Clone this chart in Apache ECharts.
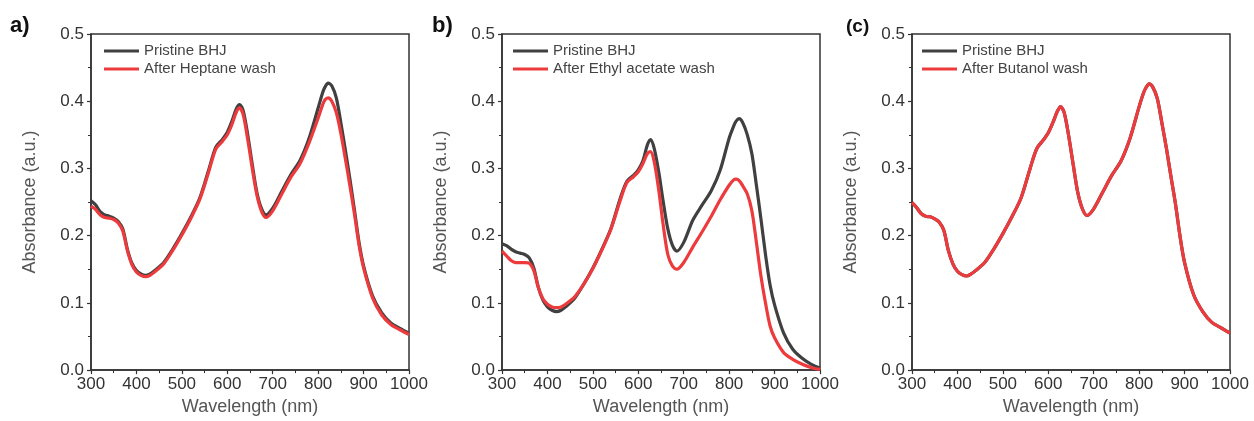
<!DOCTYPE html>
<html>
<head>
<meta charset="utf-8">
<script src="https://cdn.jsdelivr.net/npm/echarts@6/dist/echarts.min.js"></script>
<style>
  html, body { margin: 0; padding: 0; background: #fff; }
  #chart { width: 1254px; height: 421px; }
</style>
</head>
<body>
<div id="chart"></div>
<script>
// wavelength grid (nm), shared by all curves
var wavelengths = [300, 310, 320, 330, 340, 350, 360, 370, 380, 390, 400, 410, 420, 430, 440, 460, 480, 500, 520, 540,
  560, 575, 590, 600, 610, 620, 627, 635, 645, 655, 665, 675, 685, 700, 720, 740, 760, 780, 800, 810,
  815, 822, 830, 840, 850, 860, 870, 880, 890, 900, 920, 940, 960, 980, 1000];

// panel a
var aPristine = [.252, .246, .236, .231, .229, .226, .221, .210, .180, .159, .148, .143, .141, .143, .148, .160, .180, .203, .228, .257,
  .300, .332, .344, .354, .370, .389, .395, .386, .350, .306, .265, .241, .231, .241, .266, .291, .312, .345, .390, .413,
  .421, .427, .423, .405, .368, .327, .284, .238, .190, .155, .110, .085, .070, .062, .055];
var aHeptane = [.244, .239, .231, .227, .226, .224, .219, .207, .178, .157, .146, .141, .139, .141, .146, .158, .178, .201, .226, .255,
  .297, .329, .341, .350, .365, .384, .390, .380, .343, .300, .261, .237, .227, .237, .262, .287, .307, .338, .375, .395,
  .402, .405, .400, .383, .352, .314, .274, .232, .186, .152, .107, .082, .068, .060, .053];

// panel b
var bPristine = [.188, .185, .180, .176, .174, .172, .167, .152, .123, .104, .094, .089, .087, .089, .094, .107, .128, .152, .180, .211,
  .255, .281, .290, .298, .311, .335, .343, .330, .295, .250, .210, .186, .177, .190, .223, .245, .266, .297, .345, .363,
  .370, .374, .368, .350, .322, .275, .225, .172, .127, .097, .055, .031, .018, .009, .003];
var bEthylAcetate = [.177, .170, .163, .160, .160, .160, .159, .148, .123, .106, .098, .094, .093, .094, .098, .109, .128, .151, .179, .210,
  .252, .279, .288, .295, .307, .322, .325, .310, .268, .215, .172, .155, .150, .160, .183, .205, .228, .253, .275, .283,
  .284, .282, .274, .262, .237, .190, .140, .100, .066, .048, .026, .016, .009, .004, .001];

// panel c
var cPristine = [.249, .242, .233, .229, .228, .225, .220, .208, .178, .158, .147, .142, .140, .143, .148, .160, .180, .203, .228, .256,
  .300, .330, .343, .353, .368, .385, .392, .383, .348, .305, .264, .240, .230, .240, .265, .290, .311, .345, .392, .413,
  .420, .426, .421, .404, .368, .330, .288, .247, .199, .160, .112, .087, .071, .063, .055];
var cButanol = [.249, .242, .233, .229, .228, .225, .220, .208, .178, .158, .147, .142, .140, .143, .148, .160, .180, .203, .228, .256,
  .300, .330, .343, .353, .368, .385, .392, .383, .348, .305, .264, .240, .230, .240, .265, .290, .311, .345, .392, .413,
  .420, .426, .421, .404, .368, .330, .288, .247, .199, .160, .112, .087, .071, .063, .055];

var yTicks = [0, 0.1, 0.2, 0.3, 0.4, 0.5];
var panelLetters = ['a)', 'b)', '(c)'];
var washNames = ['After Heptane wash', 'After Ethyl acetate wash', 'After Butanol wash'];

var BLACK = '#404040';
var RED = '#ec3a3d';
var FONT = 'Liberation Sans, Arial, sans-serif';

function pairs(ys) {
  return wavelengths.map(function (w, i) { return [w, ys[i]]; });
}

var panels = [
  { left: 91, legendLeft: 99, pristine: aPristine, wash: aHeptane },
  { left: 502, legendLeft: 508, pristine: bPristine, wash: bEthylAcetate },
  { left: 912, legendLeft: 917, pristine: cPristine, wash: cButanol }
];

var grids = [], xAxes = [], yAxes = [], series = [], legends = [], graphics = [];

panels.forEach(function (p, i) {
  grids.push({
    left: p.left, top: 34, width: 318, height: 337,
    show: true, borderColor: '#333', borderWidth: 1.5, backgroundColor: 'transparent'
  });
  xAxes.push({
    type: 'value', gridIndex: i, min: 300, max: 1000, interval: 100,
    name: 'Wavelength (nm)', nameLocation: 'middle', nameGap: 27,
    nameTextStyle: { fontSize: 18, color: '#555', fontFamily: FONT },
    axisLine: { lineStyle: { color: '#333', width: 1.5 } },
    axisTick: { show: true, inside: false, length: 4, lineStyle: { color: '#333', width: 1.2 } },
    minorTick: { show: true, splitNumber: 2, length: 3, lineStyle: { color: '#333', width: 1 } },
    axisLabel: {
      fontSize: 17, color: '#333', fontFamily: FONT, margin: 6,
      formatter: function (v) { return String(v); }
    },
    splitLine: { show: false }
  });
  yAxes.push({
    type: 'value', gridIndex: i, min: yTicks[0], max: yTicks[yTicks.length - 1], interval: 0.1,
    name: 'Absorbance (a.u.)', nameLocation: 'middle', nameGap: 52, nameRotate: 90,
    nameTextStyle: { fontSize: 18, color: '#555', fontFamily: FONT },
    axisLine: { lineStyle: { color: '#333', width: 1.5 } },
    axisTick: { show: true, inside: false, length: 4, lineStyle: { color: '#333', width: 1.2 } },
    minorTick: { show: true, splitNumber: 2, length: 3, lineStyle: { color: '#333', width: 1 } },
    axisLabel: {
      fontSize: 17, color: '#333', fontFamily: FONT, margin: 7,
      formatter: function (v) { return v.toFixed(1); }
    },
    splitLine: { show: false }
  });
  series.push({
    name: 'Pristine BHJ', type: 'line', xAxisIndex: i, yAxisIndex: i,
    data: pairs(p.pristine), symbol: 'none', smooth: 0.3,
    lineStyle: { color: BLACK, width: 3.2 }, itemStyle: { color: BLACK }, z: 2
  });
  series.push({
    name: washNames[i], type: 'line', xAxisIndex: i, yAxisIndex: i,
    data: pairs(p.wash), symbol: 'none', smooth: 0.3,
    lineStyle: { color: RED, width: 3.2 }, itemStyle: { color: RED }, z: 3
  });
  legends.push({
    orient: 'vertical', left: p.legendLeft, top: 38,
    icon: 'rect', itemWidth: 35, itemHeight: 3, itemGap: 2,
    selectedMode: false,
    textStyle: { fontSize: 15, color: '#444', fontFamily: FONT, lineHeight: 16 },
    data: ['Pristine BHJ', washNames[i]]
  });
  graphics.push({
    type: 'text', left: [10, 432, 846][i], top: i === 2 ? 17 : 15,
    style: {
      text: panelLetters[i], fill: '#111',
      font: (i === 2 ? 'bold 19px ' : 'bold 22px ') + FONT
    }
  });
});

var chart = echarts.init(document.getElementById('chart'));
chart.setOption({
  animation: false,
  backgroundColor: '#fff',
  grid: grids,
  xAxis: xAxes,
  yAxis: yAxes,
  legend: legends,
  series: series,
  graphic: graphics
});
</script>
</body>
</html>
